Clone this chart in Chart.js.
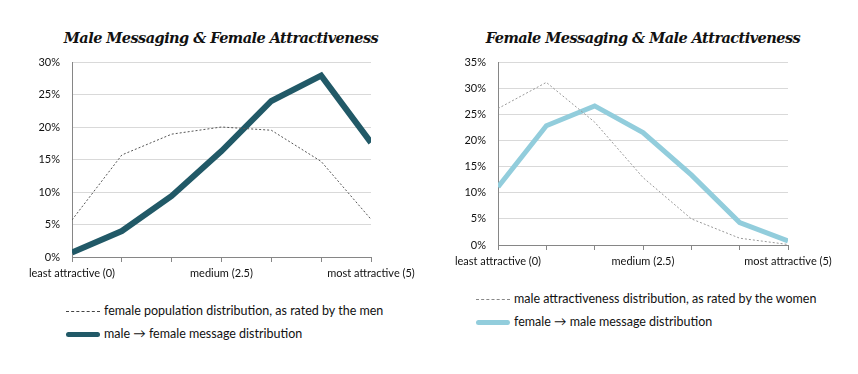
<!DOCTYPE html>
<html><head><meta charset="utf-8">
<script src="https://cdn.jsdelivr.net/npm/chart.js@4/dist/chart.umd.min.js"></script>
<style>
body{margin:0;background:#fff;width:858px;height:374px;position:relative;overflow:hidden;font-family:Lato,"Open Sans",sans-serif;}
.title{position:absolute;font-family:"DejaVu Serif",serif;font-weight:bold;font-style:italic;font-size:14.5px;color:#111;white-space:nowrap;transform:translateX(-50%);letter-spacing:-0.55px;}
canvas{position:absolute;}
.leg{position:absolute;font-size:12.5px;color:#111;white-space:nowrap;}
.row{position:absolute;left:0;height:14px;line-height:14px;}
.smp{position:absolute;top:7px;left:0;width:34px;}
.txt{position:absolute;left:38px;top:0;}
</style></head><body>
<div class="title" id="t1" style="left:221px;top:29px;"></div>
<div class="title" id="t2" style="left:643px;top:29px;"></div>
<div style="position:absolute;left:0;top:0;width:430px;height:290px;"><canvas id="c1" width="430" height="290"></canvas></div>
<div style="position:absolute;left:430px;top:0;width:428px;height:290px;"><canvas id="c2" width="428" height="290"></canvas></div>
<div class="leg" id="l1" style="left:66px;top:304px;"></div>
<div class="leg" id="l2" style="left:476px;top:292px;"></div>
<script>
const titles = ["Male Messaging & Female Attractiveness", "Female Messaging & Male Attractiveness"];
const categories = ["least attractive (0)", "", "", "medium (2.5)", "", "", "most attractive (5)"];
const femalePopulation = [5.7, 15.7, 18.9, 20.0, 19.5, 14.7, 5.8];
const maleToFemaleMsgs = [0.7, 4.0, 9.4, 16.3, 24.0, 27.9, 17.6];
const malePopulation = [26.1, 31.1, 23.5, 12.9, 5.0, 1.3, 0.1];
const femaleToMaleMsgs = [11.1, 22.8, 26.6, 21.5, 13.4, 4.3, 0.8];
const leftLegend = ["female population  distribution, as rated by the men", "male \u2192 female message  distribution"];
const rightLegend = ["male attractiveness distribution, as rated by the women", "female \u2192 male message distribution"];
const yMaxLeft = 30, yMaxRight = 35, yStep = 5;

document.getElementById('t1').textContent = titles[0];
document.getElementById('t2').textContent = titles[1];

const dark = '#215967', light = '#92CDDC';

function legend(id, texts, dashColor, solidColor){
  const el = document.getElementById(id);
  texts.forEach((t,i)=>{
    const r = document.createElement('div'); r.className='row'; r.style.top=(i*23)+'px';
    const s = document.createElement('div'); s.className='smp';
    if(i===0){ s.style.borderTop='1px dashed '+dashColor; }
    else { s.style.height='5px'; s.style.top='5px'; s.style.background=solidColor; s.style.borderRadius='3px'; }
    const tx = document.createElement('span'); tx.className='txt'; tx.textContent=t;
    r.appendChild(s); r.appendChild(tx); el.appendChild(r);
  });
}
legend('l1', leftLegend, '#444', dark);
legend('l2', rightLegend, '#888', light);

function make(id, dashData, solidData, dashLabel, solidLabel, solidColor, dashColor, ymax, plotLeft, plotRight, plotTop, plotBottom, W, H, solidWidth){
  new Chart(document.getElementById(id), {
    type:'line',
    data:{labels:categories, datasets:[
      {label:dashLabel, data:dashData, borderColor:dashColor, borderWidth:1, borderDash:[2,2], pointRadius:0, tension:0, fill:false, clip:0},
      {label:solidLabel, data:solidData, borderColor:solidColor, borderWidth:solidWidth, pointRadius:0, tension:0, fill:false, borderJoinStyle:'miter', clip:0}
    ]},
    options:{
      responsive:false, animation:false, devicePixelRatio:1,
      layout:{padding:{left:0, right:W-plotRight, top:plotTop, bottom:0}},
      plugins:{legend:{display:false}, title:{display:false}, tooltip:{enabled:false}},
      scales:{
        x:{
          grid:{display:true, drawOnChartArea:false, drawTicks:true, tickLength:5, color:'#868686', lineWidth:1},
          border:{display:true, color:'#868686', width:1},
          ticks:{autoSkip:false, maxRotation:0, minRotation:0, padding:5, color:'#111', font:{family:'Lato', size:11}},
          afterFit:(s)=>{ s.height = H - plotBottom; }
        },
        y:{
          min:0, max:ymax,
          grid:{display:true, drawTicks:false, color:'#D9D9D9', lineWidth:1},
          border:{display:true, color:'#868686', width:1},
          ticks:{stepSize:yStep, padding:12, color:'#111', font:{family:'Lato', size:11}, callback:(v)=>v+'%'},
          afterFit:(s)=>{ s.width = plotLeft; }
        }
      }
    }
  });
}
make('c1', femalePopulation, maleToFemaleMsgs, leftLegend[0], leftLegend[1], dark, '#555', yMaxLeft, 72, 371, 62, 257, 430, 290, 6);
make('c2', malePopulation, femaleToMaleMsgs, rightLegend[0], rightLegend[1], light, '#999', yMaxRight, 68, 358, 62, 245, 428, 290, 5);
</script>
</body></html>
